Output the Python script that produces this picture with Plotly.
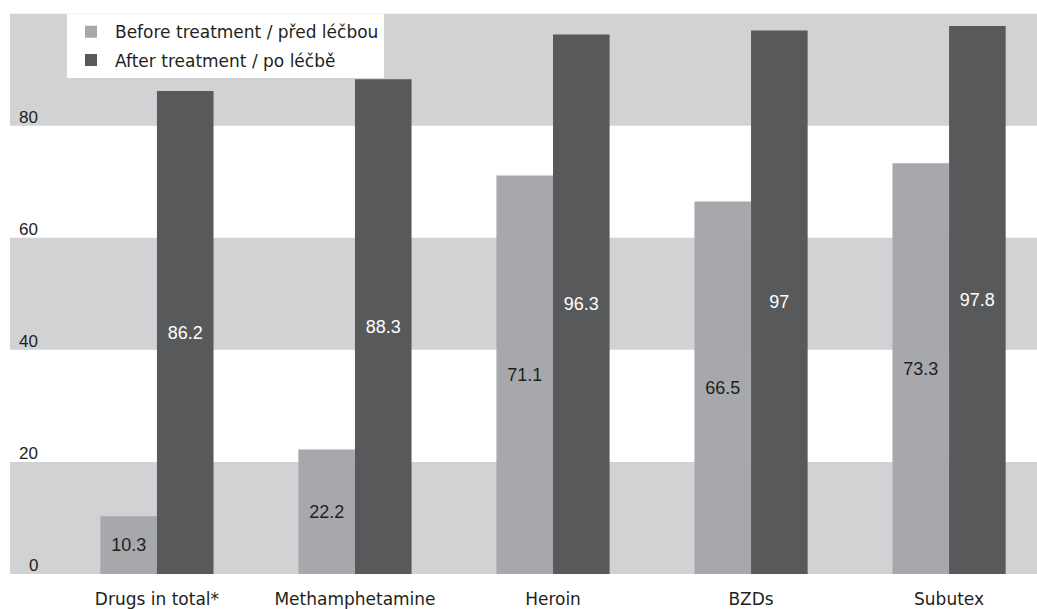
import plotly.graph_objects as go

categories = ["Drugs in total*", "Methamphetamine", "Heroin", "BZDs", "Subutex"]
before = [10.3, 22.2, 71.1, 66.5, 73.3]
after = [86.2, 88.3, 96.3, 97, 97.8]
series_names = ["Before treatment / před léčbou", "After treatment / po léčbě"]
y_ticks = [0, 20, 40, 60, 80]
bands = [(0, 20), (40, 60), (80, 100)]

TEXT = "#231f20"
LIGHT = "#a7a8ab"
DARK = "#58595b"
BAND = "#d1d2d4"
TXT_FONT = "DejaVu Sans"
NUM_FONT = "Liberation Sans"

fig = go.Figure()
fig.add_trace(go.Bar(
    x=categories, y=before, name=series_names[0], legendgroup="a",
    marker=dict(color=LIGHT, line=dict(width=0)),
    texttemplate="%{y}", textposition="inside", insidetextanchor="middle",
    textangle=0, constraintext="none",
    textfont=dict(family=NUM_FONT, size=18, color=TEXT),
))
fig.add_trace(go.Bar(
    x=categories, y=after, name=series_names[1], legendgroup="b",
    marker=dict(color=DARK, line=dict(width=0)),
    texttemplate="%{y}", textposition="inside", insidetextanchor="middle",
    textangle=0, constraintext="none",
    textfont=dict(family=NUM_FONT, size=18, color="white"),
))

shapes = []
for y0, y1 in bands:
    shapes.append(dict(type="rect", xref="paper", yref="y", x0=0, x1=1, y0=y0, y1=y1,
                       fillcolor=BAND, line=dict(width=0), layer="below"))

annotations = []
for t in y_ticks:
    annotations.append(dict(xref="paper", yref="y", x=0, y=t, text=str(t), showarrow=False,
                            xanchor="right", yanchor="bottom", xshift=30, yshift=-3,
                            font=dict(family=NUM_FONT, size=17, color=TEXT)))

fig.update_layout(
    width=1037, height=609,
    margin=dict(l=10, r=0, t=12, b=35),
    paper_bgcolor="white", plot_bgcolor="white",
    barmode="group", bargap=0.4285, bargroupgap=0,
    shapes=shapes, annotations=annotations,
    showlegend=True,
    legend=dict(x=0.0555, y=0.996, xanchor="left", yanchor="top",
                bgcolor="white", borderwidth=0, itemwidth=38,
                font=dict(family=TXT_FONT, size=17, color=TEXT),
                tracegroupgap=3),
    xaxis=dict(type="category", range=[-0.742, 4.444], showgrid=False, zeroline=False,
               showline=False, ticks="", ticklabelstandoff=13,
               tickfont=dict(family=TXT_FONT, size=17, color=TEXT)),
    yaxis=dict(range=[0, 100.3], showgrid=False, zeroline=False, showline=False,
               showticklabels=False, ticks=""),
)

fig.write_html("out.html")
